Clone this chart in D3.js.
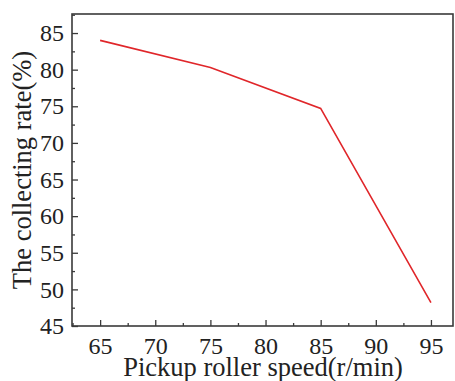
<!DOCTYPE html>
<html><head><meta charset="utf-8">
<script src="https://cdn.jsdelivr.net/npm/d3@7"></script>
<style>body{margin:0;background:#fff}svg{display:block}</style>
</head><body><svg id="c" width="455" height="381"></svg>
<script>
const speeds = [65, 75, 85, 95];
const rates = [84.0, 80.3, 74.7, 48.2];
const xTicks = [65, 70, 75, 80, 85, 90, 95];
const yTicks = [45, 50, 55, 60, 65, 70, 75, 80, 85];
const xTitle = "Pickup roller speed(r/min)";
const yTitle = "The collecting rate(%)";

const svg = d3.select("#c");
const L = 72, R = 453, T = 14, B = 326;
const x = d3.scaleLinear().domain([62.45, 97.0]).range([L, R]);
const y = d3.scaleLinear().domain([45, 87.6]).range([B, T]);
const font = "Liberation Serif";
const axc = "#3a3a3a";

svg.append("rect").attr("x", L).attr("y", T).attr("width", R - L).attr("height", B - T)
  .attr("fill", "none").attr("stroke", axc).attr("stroke-width", 1.6);

const xMinor = d3.range(62.5, 97, 2.5).filter(v => !xTicks.includes(v));
const gx = svg.append("g").attr("transform", `translate(0,${B})`);
gx.call(d3.axisBottom(x).tickValues(xTicks).tickSizeInner(-6).tickSizeOuter(0).tickPadding(11));
gx.append("g").call(d3.axisBottom(x).tickValues(xMinor).tickSizeInner(-3).tickSizeOuter(0).tickFormat(""));
gx.selectAll(".domain").remove();
gx.selectAll("line").attr("stroke", axc).attr("stroke-width", 1.3);
gx.selectAll("text").attr("font-family", font).attr("font-size", 24).attr("fill", "#222");

const yMinor = d3.range(47.5, 87.6, 5);
const gy = svg.append("g").attr("transform", `translate(${L},0)`);
gy.call(d3.axisLeft(y).tickValues(yTicks).tickSizeInner(-6).tickSizeOuter(0).tickPadding(8));
gy.append("g").call(d3.axisLeft(y).tickValues(yMinor).tickSizeInner(-3).tickSizeOuter(0).tickFormat(""));
gy.selectAll(".domain").remove();
gy.selectAll("line").attr("stroke", axc).attr("stroke-width", 1.3);
gy.selectAll("text").attr("font-family", font).attr("font-size", 24).attr("fill", "#222");

const line = d3.line().x((d, i) => x(speeds[i])).y(d => y(d));
svg.append("path").datum(rates).attr("d", line).attr("fill", "none")
  .attr("stroke", "#e0262a").attr("stroke-width", 1.6);

svg.append("text").attr("x", 263).attr("y", 376).attr("text-anchor", "middle")
  .attr("font-family", font).attr("font-size", 26.5).attr("fill", "#222").text(xTitle);
svg.append("text").attr("transform", "translate(31,170) rotate(-90)").attr("text-anchor", "middle")
  .attr("font-family", font).attr("font-size", 26.5).attr("fill", "#222").text(yTitle);
</script></body></html>
